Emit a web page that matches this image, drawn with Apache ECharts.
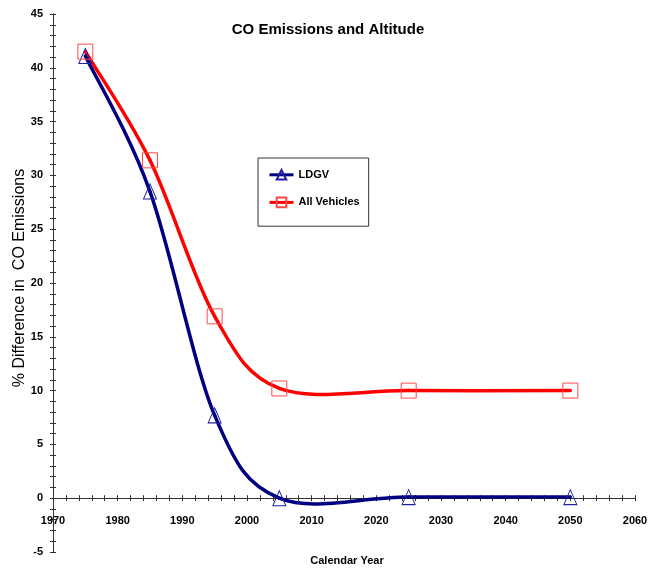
<!DOCTYPE html>
<html>
<head>
<meta charset="utf-8">
<script src="https://cdn.jsdelivr.net/npm/echarts@6/dist/echarts.min.js"></script>
<style>
html,body{margin:0;padding:0;background:#fff;}
#chart{width:649px;height:569px;}
</style>
</head>
<body>
<div id="chart"></div>
<script>
var years = [1975, 1985, 1995, 2005, 2025, 2050];
var ldgv = [41.1, 28.5, 7.7, 0.0, 0.1, 0.1];
var allVehicles = [41.5, 31.4, 16.9, 10.2, 10.0, 10.0];
var seriesNames = ['LDGV', 'All Vehicles'];
var titleText = 'CO Emissions and Altitude';
var xName = 'Calendar Year';
var yName = '% Difference in  CO Emissions';

function pairs(xs, ys) { return xs.map(function (x, i) { return [x, ys[i]]; }); }

var chart = echarts.init(document.getElementById('chart'));
var FONT = '"Liberation Sans", Arial, sans-serif';
var axisColor = '#333';

var GRID = { left: 53, right: 14, top: 14, bottom: 17 };
var Y_MIN = -5, Y_MAX = 45;
var plotH = 569 - GRID.top - GRID.bottom;
// x axis crosses at y = 0: shift the axis up from the grid bottom by the height of the [-5, 0] band
var zeroOffset = -plotH * (0 - Y_MIN) / (Y_MAX - Y_MIN);

function xAx(inside, showLabel) {
  return {
    type: 'value', min: 1970, max: 2060, interval: 10, position: 'bottom', offset: zeroOffset,
    axisLine: { show: true, onZero: false, lineStyle: { color: axisColor, width: 1 } },
    axisTick: { show: true, inside: inside, length: 3, lineStyle: { color: axisColor } },
    minorTick: { show: true, splitNumber: 5, length: 3, lineStyle: { color: axisColor } },
    axisLabel: { show: showLabel, margin: 17, color: '#000', fontFamily: FONT, fontSize: 11, fontWeight: 'bold',
      formatter: function (v) { return String(v); } },
    splitLine: { show: false }, minorSplitLine: { show: false }
  };
}
function yAx(inside, showLabel) {
  return {
    type: 'value', min: Y_MIN, max: Y_MAX, interval: 5, position: 'left',
    axisLine: { show: true, onZero: false, lineStyle: { color: axisColor, width: 1 } },
    axisTick: { show: true, inside: inside, length: 3, lineStyle: { color: axisColor } },
    minorTick: { show: true, splitNumber: 5, length: 3, lineStyle: { color: axisColor } },
    axisLabel: { show: showLabel, margin: 10, color: '#000', fontFamily: FONT, fontSize: 11, fontWeight: 'bold' },
    splitLine: { show: false }, minorSplitLine: { show: false }
  };
}

// Excel-style smoothed line (Catmull-Rom Bezier) drawn via the axis scales
function smoothSegments(xs, ys, color) {
  return function (params, api) {
    var i = params.dataIndex;
    if (i >= xs.length - 1) return null;
    function P(k) {
      k = Math.max(0, Math.min(xs.length - 1, k));
      return api.coord([xs[k], ys[k]]);
    }
    var p0 = P(i - 1), p1 = P(i), p2 = P(i + 1), p3 = P(i + 2);
    return {
      type: 'bezierCurve',
      shape: {
        x1: p1[0], y1: p1[1], x2: p2[0], y2: p2[1],
        cpx1: p1[0] + (p2[0] - p0[0]) / 6, cpy1: p1[1] + (p2[1] - p0[1]) / 6,
        cpx2: p2[0] - (p3[0] - p1[0]) / 6, cpy2: p2[1] - (p3[1] - p1[1]) / 6
      },
      style: { stroke: color, lineWidth: 3.5, fill: null, lineCap: 'round', lineJoin: 'round' }
    };
  };
}

var option = {
  backgroundColor: '#fff',
  animation: false,
  grid: { left: GRID.left, right: GRID.right, top: GRID.top, bottom: GRID.bottom, containLabel: false, outerBoundsMode: 'none' },
  xAxis: [xAx(false, true), xAx(true, false)],
  yAxis: [yAx(false, true), yAx(true, false)],
  legend: {
    orient: 'vertical', left: 258, top: 158,
    padding: [11, 9, 18, 10], itemGap: 16, itemWidth: 24, itemHeight: 12,
    borderColor: '#333', borderWidth: 1, backgroundColor: '#fff',
    textStyle: { fontFamily: FONT, fontSize: 11, fontWeight: 'bold', color: '#000' },
    data: [
      { name: seriesNames[0], lineStyle: { color: '#000080', width: 3, opacity: 1 } },
      { name: seriesNames[1], lineStyle: { color: '#ff0000', width: 3, opacity: 1 } }
    ]
  },
  graphic: [
    { type: 'text', x: 328, y: 30, style: { text: titleText, fontFamily: FONT, fontSize: 15, fontWeight: 'bold', fill: '#000', textAlign: 'center', textVerticalAlign: 'middle' } },
    { type: 'text', x: 347, y: 561, style: { text: xName, fontFamily: FONT, fontSize: 11, fontWeight: 'bold', fill: '#000', textAlign: 'center', textVerticalAlign: 'middle' } },
    { type: 'text', x: 20, y: 278, rotation: Math.PI / 2, style: { text: yName, fontFamily: FONT, fontSize: 16, fill: '#000', textAlign: 'center', textVerticalAlign: 'middle' } }
  ],
  series: [
    {
      name: 'LDGV-curve', type: 'custom', xAxisIndex: 0, yAxisIndex: 0,
      data: pairs(years, ldgv), renderItem: smoothSegments(years, ldgv, '#000080'), z: 3, silent: true
    },
    {
      name: 'All-curve', type: 'custom', xAxisIndex: 0, yAxisIndex: 0,
      data: pairs(years, allVehicles), renderItem: smoothSegments(years, allVehicles, '#ff0000'), z: 2, silent: true
    },
    {
      name: seriesNames[0], type: 'line', xAxisIndex: 0, yAxisIndex: 0,
      data: pairs(years, ldgv),
      symbol: 'triangle', symbolSize: [13, 15],
      lineStyle: { color: '#000080', width: 3, opacity: 0 },
      itemStyle: { color: 'rgba(255,255,255,0)', borderColor: '#2020a0', borderWidth: 1 },
      z: 4
    },
    {
      name: seriesNames[1], type: 'line', xAxisIndex: 0, yAxisIndex: 0,
      data: pairs(years, allVehicles),
      symbol: 'rect', symbolSize: 15,
      lineStyle: { color: '#ff0000', width: 3, opacity: 0 },
      itemStyle: { color: 'rgba(255,255,255,0)', borderColor: '#ff4a4a', borderWidth: 1 },
      z: 4
    }
  ]
};
chart.setOption(option);
</script>
</body>
</html>
